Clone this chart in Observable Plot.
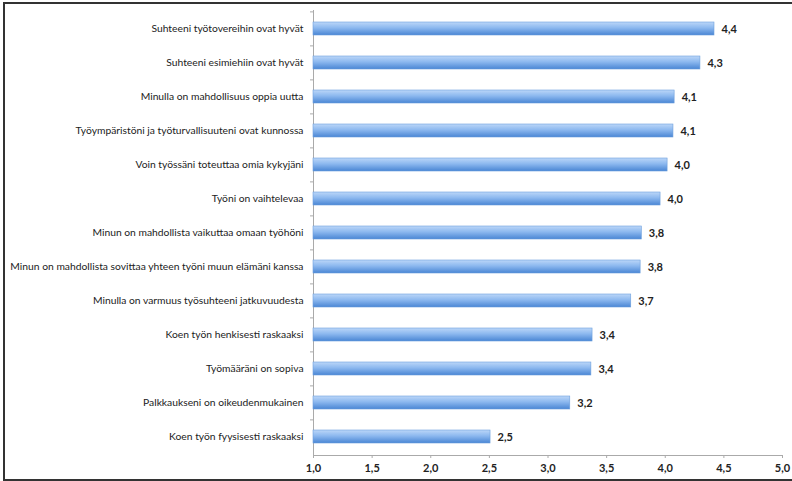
<!DOCTYPE html>
<html><head><meta charset="utf-8">
<script src="https://cdn.jsdelivr.net/npm/d3@7"></script>
<script src="https://cdn.jsdelivr.net/npm/@observablehq/plot@0.6"></script>
<style>
body{margin:0;background:#fff;overflow:hidden}
#wrap{position:relative;width:792px;height:481px;overflow:hidden}
#frame{position:absolute;left:3px;top:2px;width:830px;height:475px;border:2px solid #333;pointer-events:none}
svg{position:absolute;left:0;top:0}
</style></head><body><div id="wrap"><div id="frame"></div></div>
<script>
const categories = [
  "Suhteeni työtovereihin ovat hyvät",
  "Suhteeni esimiehiin ovat hyvät",
  "Minulla on mahdollisuus oppia uutta",
  "Työympäristöni ja työturvallisuuteni ovat kunnossa",
  "Voin työssäni toteuttaa omia kykyjäni",
  "Työni on vaihtelevaa",
  "Minun on mahdollista vaikuttaa omaan työhöni",
  "Minun on mahdollista sovittaa yhteen työni muun elämäni kanssa",
  "Minulla on varmuus työsuhteeni jatkuvuudesta",
  "Koen työn henkisesti raskaaksi",
  "Työmääräni on sopiva",
  "Palkkaukseni on oikeudenmukainen",
  "Koen työn fyysisesti raskaaksi"
];
const values = [4.42, 4.30, 4.08, 4.07, 4.02, 3.96, 3.80, 3.79, 3.71, 3.38, 3.37, 3.19, 2.51];
const tickValues = [1.0, 1.5, 2.0, 2.5, 3.0, 3.5, 4.0, 4.5, 5.0];

const data = categories.map((c, i) => ({category: c, value: values[i]}));
const fmt = v => d3.format(".1f")(v).replace(".", ",");

const W = 792, H = 481, mt = 10, mb = 26, ml = 313, mr = 10;
const step = (H - mt - mb) / categories.length;
const fontFam = "Lato, sans-serif";

// fit the longest category label into the space left of the axis
const ctx = document.createElement("canvas").getContext("2d");
ctx.font = "12px " + fontFam;
const longest = d3.max(categories, c => ctx.measureText(c).width);
const labelSize = Math.min(12, 12 * 294 / longest);

const chart = Plot.plot({
  width: W, height: H,
  marginTop: mt, marginBottom: mb, marginLeft: ml, marginRight: mr,
  style: {fontFamily: fontFam, fontSize: "11px", color: "#222", background: "transparent"},
  x: {domain: [1, 5], axis: null},
  y: {domain: categories, paddingInner: 0.62, paddingOuter: 0.31, axis: null},
  marks: [
    Plot.frame({anchor: "bottom", stroke: "#aaa"}),
    Plot.frame({anchor: "left", stroke: "#aaa"}),
    Plot.barX(data, {x1: 1, x2: "value", y: "category", fill: "url(#barGrad)", stroke: "#6d9fdc", strokeWidth: 0.6}),
    Plot.text(data, {x: "value", y: "category", text: d => fmt(d.value), textAnchor: "start", dx: 7, fontWeight: "bold", fill: "#222"}),
    Plot.axisX({ticks: tickValues, tickFormat: fmt, tickSize: 3, tickPadding: 6, stroke: "#aaa", fontWeight: "bold", fill: "#222", label: null}),
    Plot.axisY({tickSize: 0, tickPadding: 10, fill: "#222", fontSize: labelSize, label: null}),
    Plot.axisY({tickSize: 3, tickFormat: () => "", dy: -step / 2, stroke: "#aaa", label: null})
  ]
});

const svg = d3.select(chart);
const grad = svg.insert("defs", ":first-child").append("linearGradient")
  .attr("id", "barGrad").attr("x1", 0).attr("y1", 0).attr("x2", 0).attr("y2", 1);
grad.append("stop").attr("offset", "0%").attr("stop-color", "#bcd7f8");
grad.append("stop").attr("offset", "45%").attr("stop-color", "#8cb8ef");
grad.append("stop").attr("offset", "100%").attr("stop-color", "#4a86d4");

document.getElementById("wrap").insertBefore(chart, document.getElementById("frame"));
</script>
</body></html>
